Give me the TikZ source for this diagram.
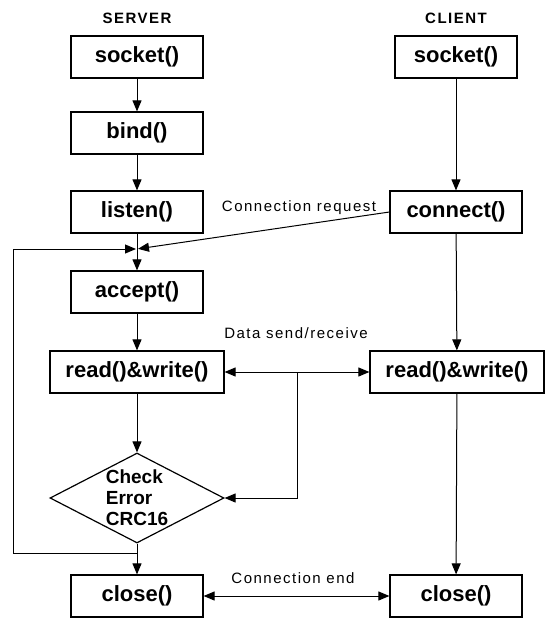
\documentclass[tikz,border=0pt]{standalone}
\usepackage{fontspec}
\setmainfont{Liberation Sans}
\newfontfamily\lblfont[LetterSpace=10]{Liberation Sans}
\usetikzlibrary{arrows.meta,shapes.geometric}

\begin{document}
\begin{tikzpicture}[x=1pt,y=-1pt,
		box/.style={draw,line width=1.2pt,minimum width=132pt,minimum height=42pt,inner sep=0pt,font=\fontsize{22}{24}\selectfont\bfseries},
		arr/.style={line width=1pt,-{Triangle[length=11pt,width=9pt]}},
		dblarr/.style={line width=1pt,{Triangle[length=11pt,width=9pt]}-{Triangle[length=11pt,width=9pt]}},
		lbl/.style={font=\lblfont\fontsize{15}{17}\selectfont},
		ttl/.style={font=\lblfont\bfseries\fontsize{15}{17}\selectfont}]
	\useasboundingbox (0,0) rectangle (550,618);
	% server side
	\node[ttl] (srv) at (137,18) {SERVER};
	\node[box] (ssock) at (137,57) {socket()};
	\node[box] (bind) at (137,133) {bind()};
	\node[box] (listen) at (137,212) {listen()};
	\node[box] (accept) at (137,292) {accept()};
	\node[box,minimum width=174pt] (srw) at (137,372) {read()\&write()};
	\node[draw,diamond,line width=1.2pt,minimum width=174pt,minimum height=90pt,inner sep=0pt,
		label={[align=left,font=\fontsize{19}{21}\selectfont\bfseries]center:{Check\\Error\\CRC16}}] (chk) at (137,498) {};
	\node[box] (sclose) at (137,596) {close()};
	% client side
	\node[ttl] (cli) at (456,18) {CLIENT};
	\node[box,minimum width=122pt] (csock) at (456,57) {socket()};
	\node[box] (conn) at (456,212) {connect()};
	\node[box,minimum width=174pt] (crw) at (457,372) {read()\&write()};
	\node[box] (cclose) at (456,596) {close()};
	% connectors
	\coordinate (merge) at (137,249);
	\coordinate (loopst) at (137,553);
	\coordinate (loopx) at (13,249);
	\coordinate (datajn) at (297,372);
	\foreach \a/\b in {ssock/bind,bind/listen,listen/accept,accept/srw,srw/chk,chk/sclose,csock/conn,conn/crw,crw/cclose}
		\draw[arr] (\a) -- (\b);
	\draw[arr,shorten >=1pt] (conn.west) -- (merge);
	\draw[arr,shorten >=1pt] (loopst) -| (loopx) -- (merge);
	\draw[dblarr] (srw) -- (crw);
	\draw[arr] (datajn) |- (chk.east);
	\draw[dblarr] (sclose) -- (cclose);
	% labels
	\node[lbl] (reqlbl) at (299,208) {Connection request};
	\node[lbl] (datalbl) at (296,333) {Data send/receive};
	\node[lbl] (endlbl) at (293,578) {Connection end};
\end{tikzpicture}
\end{document}
